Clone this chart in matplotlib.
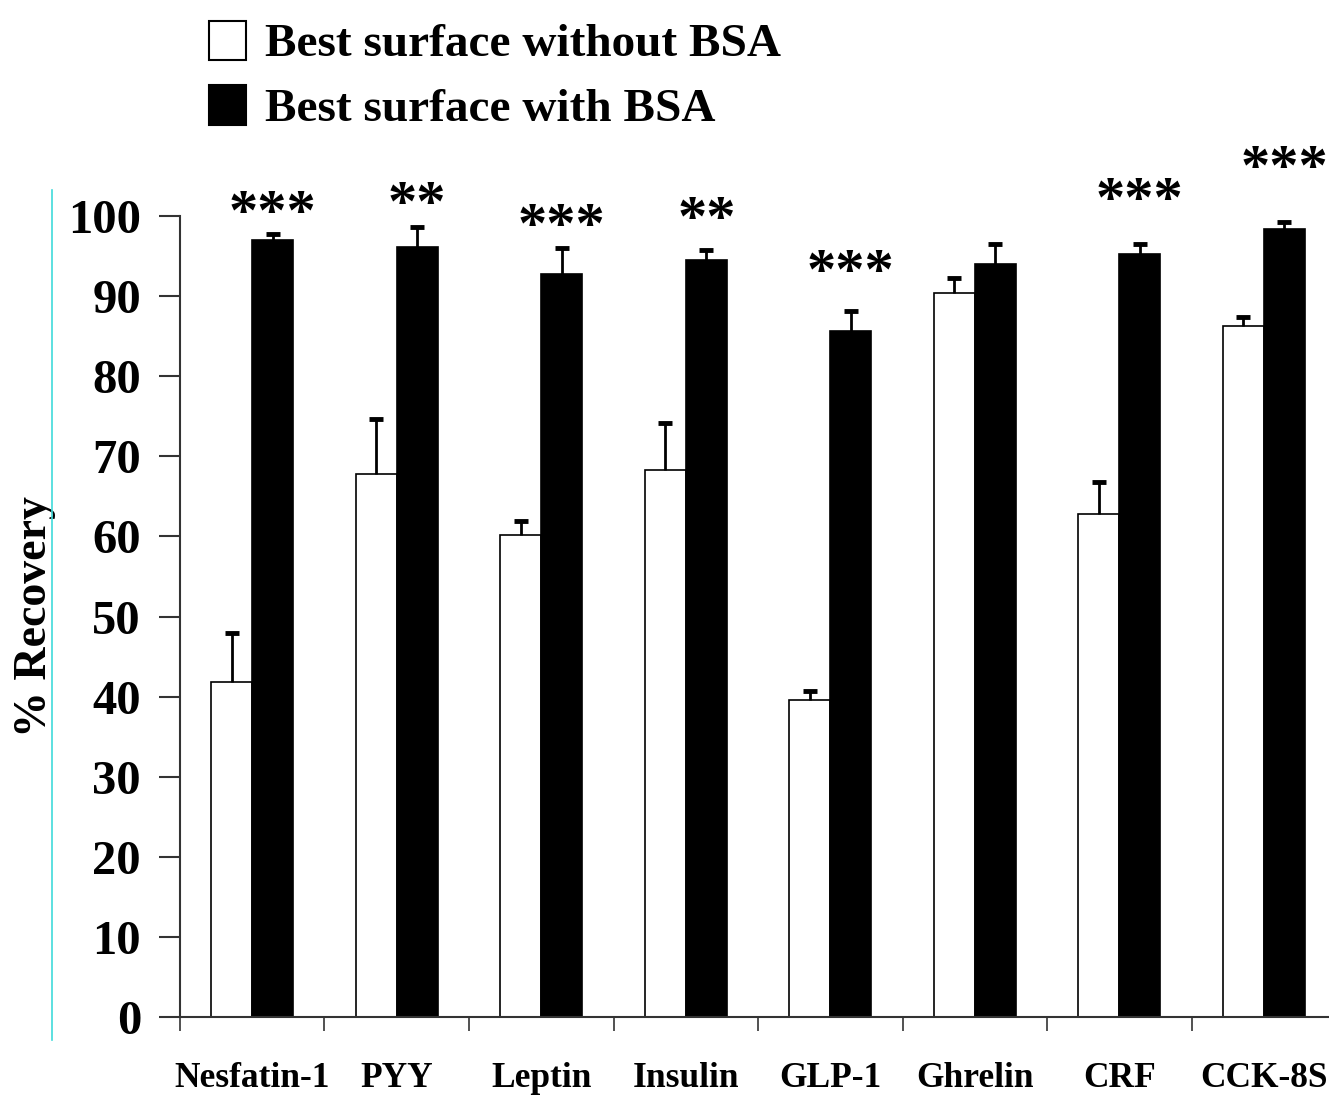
import numpy as np
import matplotlib
matplotlib.use("Agg")
import matplotlib.pyplot as plt
from matplotlib.lines import Line2D
from matplotlib.patches import Patch

# Data
peptides = ["Nesfatin-1", "PYY", "Leptin", "Insulin", "GLP-1", "Ghrelin", "CRF", "CCK-8S"]
without_bsa = [41.8, 67.8, 60.2, 68.3, 39.6, 90.4, 62.8, 86.3]
without_err = [6.1, 6.9, 1.7, 5.9, 1.1, 1.9, 4.0, 1.1]
with_bsa = [97.0, 96.1, 92.8, 94.5, 85.6, 94.0, 95.3, 98.4]
with_err = [0.8, 2.5, 3.2, 1.3, 2.5, 2.5, 1.2, 0.9]
stars = ["***", "**", "***", "**", "***", "", "***", "***"]
star_height = [101.4, 102.6, 99.8, 100.7, 94.1, 0, 103.0, 107.0]

plt.rcParams["font.family"] = ["Liberation Serif", "DejaVu Serif"]
plt.rcParams["font.weight"] = "bold"

fig = plt.figure(figsize=(13.29, 10.96), dpi=100)
ax = fig.add_axes([0.1354, 0.0721, 0.8646, 0.7308])

x = np.arange(len(peptides)) + 0.5
w = 0.284

ax.bar(x - w / 2, without_bsa, w, color="white", edgecolor="black", linewidth=1.2)
ax.bar(x + w / 2, with_bsa, w, color="black", edgecolor="black", linewidth=1.2)

# upper-only error bars with a cap on top
for xs, vals, errs in [(x - w / 2, without_bsa, without_err), (x + w / 2, with_bsa, with_err)]:
    tops = np.array(vals) + np.array(errs)
    ax.vlines(xs, vals, tops, color="black", linewidth=2, zorder=3)
    ax.plot(xs, tops, linestyle="none", marker="_", markersize=10,
            markeredgewidth=3.5, color="black", zorder=3)

# significance marks
for xi, s, h in zip(x + w / 2, stars, star_height):
    if s:
        ax.text(xi, h - 1.3, s, ha="center", va="center", fontsize=42,
                fontweight="bold", clip_on=False)

ax.set_xlim(0, 7.95)
ax.set_ylim(0, 100)
ax.set_yticks(range(0, 101, 10))
ax.set_xticks(np.arange(0, 8))
ax.set_xticklabels([])
ax.tick_params(axis="y", length=15, width=1.5, color="#333333", labelsize=35, pad=13)
ax.tick_params(axis="x", length=10, width=1.2, color="#333333")
for xi, name in zip(x, peptides):
    ax.text(xi, -5.6, name, ha="center", va="top", fontsize=25.5, fontweight="bold",
            clip_on=False)

for side in ["top", "right"]:
    ax.spines[side].set_visible(False)
for side in ["left", "bottom"]:
    ax.spines[side].set_color("#333333")
    ax.spines[side].set_linewidth(1.5)

ax.set_ylabel("% Recovery", fontsize=33, fontweight="bold")
ax.yaxis.set_label_coords(-0.108, 0.5)

# thin cyan rule at the left edge
fig.add_artist(Line2D([0.039, 0.039], [0.051, 0.827], color="#3fdada", lw=1.2))

handles = [Patch(facecolor="white", edgecolor="black", linewidth=1.5),
           Patch(facecolor="black", edgecolor="black", linewidth=1.5)]
fig.legend(handles, ["Best surface without BSA", "Best surface with BSA"],
           loc="upper left", bbox_to_anchor=(0.125, 1.02), frameon=False,
           handlelength=0.8, handleheight=0.9, handletextpad=0.4,
           labelspacing=0.4, prop={"weight": "bold", "size": 34})

fig.savefig("out.png", dpi=100)
